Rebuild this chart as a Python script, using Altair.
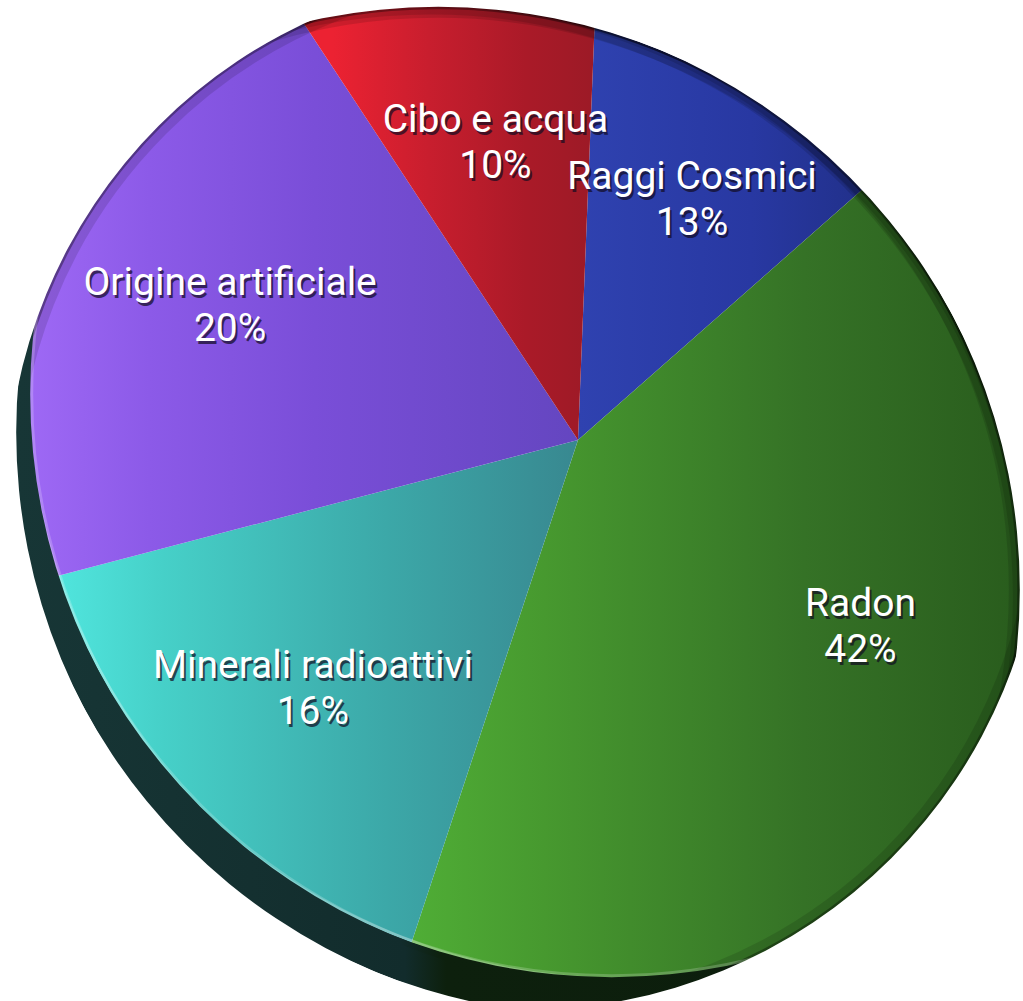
import math
import pandas as pd
import altair as alt

# ---------------- data ----------------
categories = ["Raggi Cosmici", "Radon", "Minerali radioattivi", "Origine artificiale", "Cibo e acqua"]
values = [13, 42, 16, 20, 10]
order = [0, 1, 2, 3, 4]

df = pd.DataFrame({"category": categories, "value": values, "order": order})

# ---------------- styles ----------------
W, H = 1023, 1001
VX, VY = 578, 440          # common vertex of the slices
SLICE_R = 660              # slices are cut to the elliptic top by masks
START = 0.04               # small rotation of the pie (radians)
LABEL_FRAC = 0.69          # labels sit at this fraction of the way to the rim

slice_stops = {
    "Raggi Cosmici": [(0.0, "#2f42b0"), (0.35, "#2838a2"), (0.7, "#1e2c7e"), (1.0, "#18246a")],
    "Radon": [(0.0, "#52b438"), (0.2, "#47992f"), (0.5, "#357226"), (0.75, "#295c1d"), (1.0, "#244f18")],
    "Minerali radioattivi": [(0.1, "#55f0e8"), (0.35, "#46d0c8"), (0.7, "#3ca8a8"), (1.0, "#388890")],
    "Origine artificiale": [(0.15, "#a06af6"), (0.35, "#8c5ae8"), (0.6, "#7a4ed8"), (1.0, "#6446c0")],
    "Cibo e acqua": [(0.3, "#ec2232"), (0.55, "#c81e2e"), (0.8, "#aa1a28"), (1.0, "#9a1a26")],
}


def grad(stops, x1=0, y1=0, x2=1, y2=0):
    return alt.LinearGradient(
        gradient="linear", x1=x1, y1=y1, x2=x2, y2=y2,
        stops=[alt.GradientStop(offset=o, color=c) for o, c in stops],
    )


# elliptic top surface approximated by an intersection of discs
CX, CY = 525, 492
A_AX, B_AX = 518, 452
ALPHA = math.radians(42)
vx, vy = math.cos(ALPHA), math.sin(ALPHA)
ux, uy = -math.sin(ALPHA), math.cos(ALPHA)
R1 = A_AX ** 2 / B_AX
SHIFT = (-14, 38)          # thickness of the pie side


def to_screen(X, Y):
    return CX + X * vx + Y * ux, CY + X * vy + Y * uy


discs = []
for tdeg in [60, 90, 120, 240, 270, 300]:
    t = math.radians(tdeg)
    px, py = A_AX * math.cos(t), B_AX * math.sin(t)
    nx, ny = math.cos(t) / A_AX, math.sin(t) / B_AX
    nn = math.hypot(nx, ny)
    nx, ny = nx / nn, ny / nn
    sx, sy = to_screen(px - R1 * nx, py - R1 * ny)
    discs.append((sx, sy, math.sin(t) > 0))

one = pd.DataFrame({"k": [0]})
TWO_PI = 2 * math.pi

base = (
    alt.Chart(df)
    .transform_window(cum="sum(value)", sort=[alt.SortField("order")], frame=[None, 0])
    .transform_joinaggregate(total="sum(value)")
    .transform_calculate(
        t0=f"{START} + 2*PI*(datum.cum - datum.value)/datum.total",
        t1=f"{START} + 2*PI*datum.cum/datum.total",
    )
    .transform_calculate(tm="(datum.t0 + datum.t1)/2")
)

layers = []

# slices
for cat in categories:
    layers.append(
        base.transform_filter(alt.datum.category == cat)
        .mark_arc(outerRadius=SLICE_R, fill=grad(slice_stops[cat]), strokeWidth=0)
        .encode(
            theta=alt.Theta("t0:Q", scale=None, stack=None),
            theta2="t1:Q",
            x=alt.value(VX),
            y=alt.value(VY),
        )
    )


def circle(cx, cy, r, **style):
    return (
        alt.Chart(one)
        .mark_arc(outerRadius=r, theta=0, theta2=TWO_PI, fillOpacity=0, **style)
        .encode(x=alt.value(cx), y=alt.value(cy))
    )


# edge shading of the top surface (inner halves of strokes stay visible)
top_far = [(CX, CY, A_AX)] + [(sx, sy, R1) for sx, sy, rs in discs if not rs]
for cx, cy, r in top_far:
    layers.append(circle(cx, cy, r, stroke="#000000", strokeWidth=22, strokeOpacity=0.12))
    layers.append(circle(cx, cy, r, stroke="#000000", strokeWidth=5, strokeOpacity=0.35))
for sx, sy, rs in discs:
    if rs:
        layers.append(circle(sx, sy, R1, stroke="#ffffff", strokeWidth=6, strokeOpacity=0.2))

# dark side (rim) outside the top ellipse on the lower-left side
rim_grad = grad([(0.0, "#183838"), (0.34, "#122c2c"), (0.37, "#0d200d"), (1.0, "#0b1a0b")])
for sx, sy, rim_side in discs:
    if rim_side:
        layers.append(
            alt.Chart(one)
            .mark_arc(innerRadius=R1, outerRadius=R1 + 90, theta=0, theta2=TWO_PI,
                      fill=rim_grad, strokeWidth=0)
            .encode(x=alt.value(sx), y=alt.value(sy))
        )

# white masks: outside the union of the top and the side
masks = [(CX, CY, A_AX)]
for sx, sy, rim_side in discs:
    if rim_side:
        masks.append((sx + SHIFT[0], sy + SHIFT[1], R1))
    else:
        masks.append((sx, sy, R1))
for mx, my, mr in masks:
    layers.append(
        alt.Chart(one)
        .mark_arc(innerRadius=mr, outerRadius=1700, theta=0, theta2=TWO_PI,
                  fill="white", strokeWidth=0)
        .encode(x=alt.value(mx), y=alt.value(my))
    )

# labels: placed along the mid-angle ray, at a fraction of the distance to the rim
PX, PY = VX - CX, VY - CY
p1 = (PX * vx + PY * vy) / A_AX
p2 = (PX * ux + PY * uy) / B_AX
q1 = f"((sin(datum.tm)*{vx:.6f} - cos(datum.tm)*{vy:.6f})/{A_AX})"
q2 = f"((sin(datum.tm)*{ux:.6f} - cos(datum.tm)*{uy:.6f})/{B_AX})"
lab = (
    base.transform_calculate(
        label="datum.category + '\\n' + datum.value + '%'",
        qq=f"{q1}*{q1} + {q2}*{q2}",
        pq=f"{p1:.6f}*{q1} + {p2:.6f}*{q2}",
    )
    .transform_calculate(
        rl=f"{LABEL_FRAC}*(-datum.pq + sqrt(datum.pq*datum.pq - datum.qq*({p1*p1 + p2*p2:.6f} - 1)))/datum.qq"
    )
)
text_common = dict(
    font="Roboto", fontSize=39, lineBreak="\n", lineHeight=46,
    align="center", baseline="middle",
)
enc = dict(
    theta=alt.Theta("tm:Q", scale=None, stack=None),
    radius=alt.Radius("rl:Q", scale=None),
    text="label:N",
    x=alt.value(VX),
    y=alt.value(VY),
)
layers.append(lab.mark_text(color="#120c22", opacity=0.7, dx=2, dy=-20, **text_common).encode(**enc))
layers.append(lab.mark_text(color="#ffffff", dy=-23, **text_common).encode(**enc))

chart = (
    alt.layer(*layers)
    .properties(width=W, height=H, padding=0, autosize="none", background="white")
    .configure_view(stroke=None)
)

chart.save("out.html", embed_options={"renderer": "svg", "actions": False})
